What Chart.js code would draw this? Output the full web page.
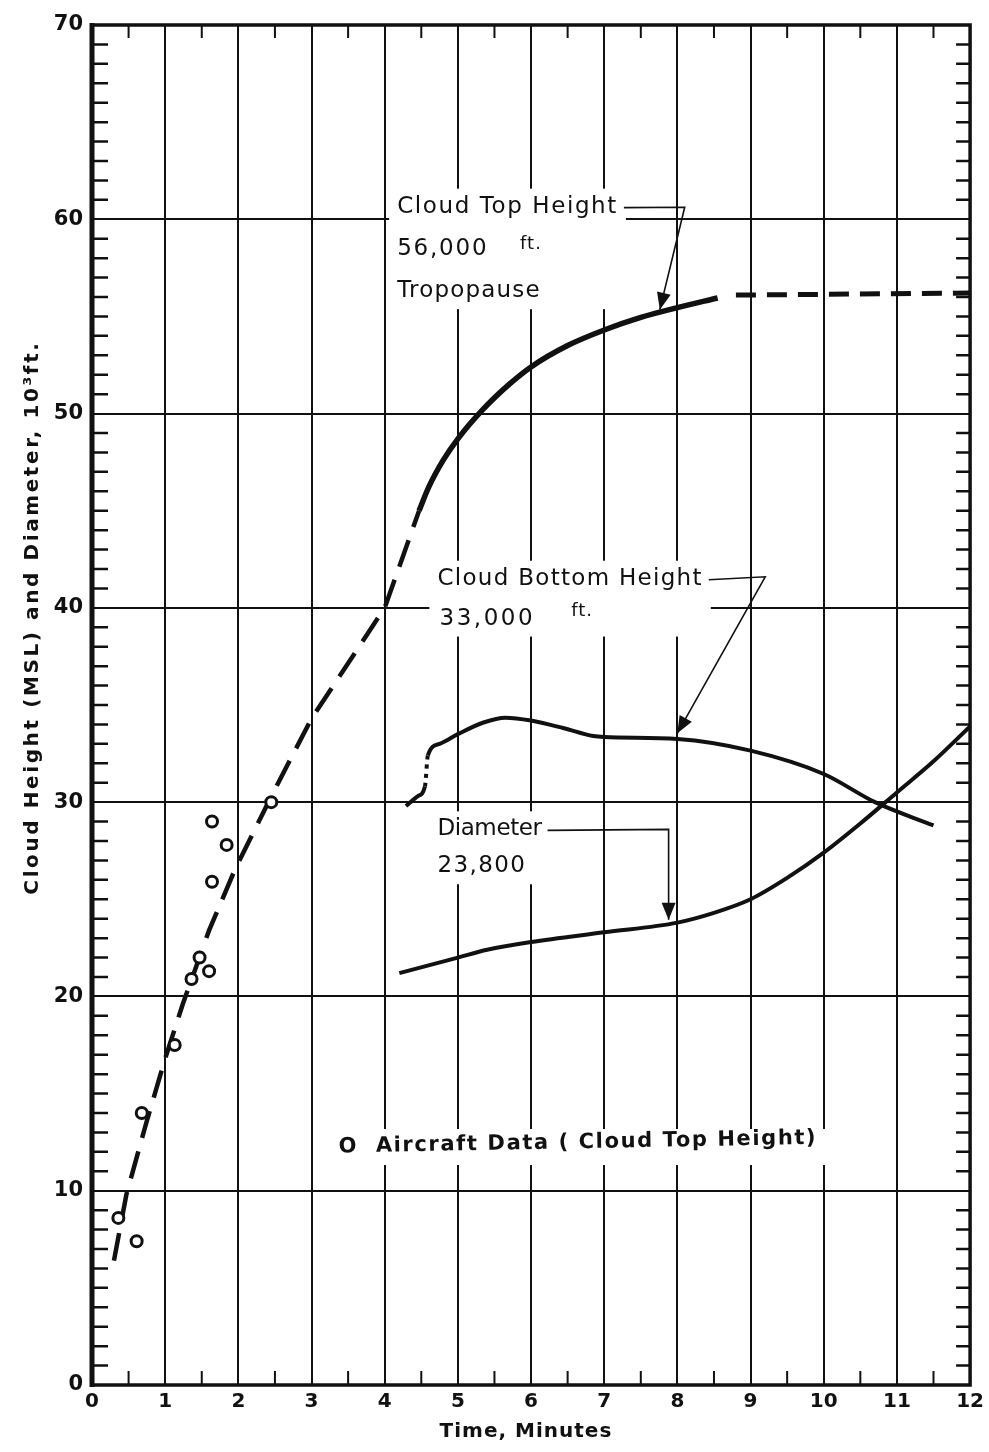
<!DOCTYPE html>
<html>
<head>
<meta charset="utf-8">
<title>Cloud height and diameter vs time</title>
<script src="https://cdn.jsdelivr.net/npm/chart.js@4.4.1/dist/chart.umd.min.js"></script>
<style>
  html, body { margin: 0; padding: 0; background: #fff; }
  canvas { display: block; }
</style>
</head>
<body>
<canvas id="chart" width="989" height="1452"></canvas>
<script>
// Axis ticks (time in minutes, height in 10^3 ft)
const xTickValues = [0, 1, 2, 3, 4, 5, 6, 7, 8, 9, 10, 11, 12];
const yTickValues = [0, 10, 20, 30, 40, 50, 60, 70];

// Aircraft observations of cloud top (open circles)
const aircraftTime = [0.36, 0.61, 0.68, 1.13, 1.36, 1.47, 1.60, 1.64, 1.64, 1.84, 2.45];
const aircraftTop = [8.6, 7.4, 14.0, 17.5, 20.9, 22.0, 21.3, 25.9, 29.0, 27.8, 30.0];

// Cloud top height, early rise (dashed)
const riseTime = [0.30, 0.47, 0.75, 1.0, 1.24, 1.6, 1.95, 2.45, 3.0, 4.0, 4.47];
const riseTop = [6.4, 9.8, 13.6, 16.8, 19.6, 23.4, 26.5, 30.3, 34.3, 40.0, 45.0];

// Cloud top height, observed (solid)
const topTime = [4.47, 4.6, 4.8, 5.0, 5.34, 5.7, 6.0, 6.5, 7.0, 7.5, 8.0, 8.55];
const topHeight = [45.0, 46.2, 47.6, 48.7, 50.2, 51.5, 52.4, 53.5, 54.3, 54.95, 55.45, 55.95];

// Tropopause level (dashed)
const tropoTime = [8.8, 12.0];
const tropoHeight = [56.1, 56.2];

// Cloud bottom height (third segment dotted)
const bottomTime = [4.29, 4.45, 4.55, 4.59, 4.75, 5.0, 5.35, 5.65, 6.0, 6.45, 6.85, 7.0, 8.0, 9.0, 10.0, 10.7, 11.5];
const bottomHeight = [29.8, 30.3, 30.8, 32.4, 33.0, 33.5, 34.1, 34.35, 34.2, 33.8, 33.4, 33.35, 33.25, 32.65, 31.45, 30.0, 28.8];

// Cloud diameter
const diamTime = [4.2, 5.0, 5.4, 6.0, 7.0, 8.0, 8.5, 9.0, 9.5, 10.0, 10.5, 11.0, 11.5, 12.0];
const diamValue = [21.2, 22.0, 22.4, 22.8, 23.3, 23.8, 24.3, 25.0, 26.1, 27.4, 28.9, 30.5, 32.1, 33.9];

const ink = "#111";
const pairs = (xs, ys) => xs.map((x, i) => ({ x: x, y: ys[i] }));

// Hand lettering on the chart, placed in data units
const labelFont = '23px "DejaVu Sans"';
const smallFont = '18px "DejaVu Sans"';
const noteFont = 'bold 21px "DejaVu Sans"';
const notes = [
  { block: "top", text: "Cloud Top Height", x: 4.17, y: 60.65, font: labelFont, gap: 1.6 },
  { block: "top", text: "56,000", x: 4.17, y: 58.45, font: labelFont, gap: 1.8 },
  { block: "top", text: "ft.", x: 5.85, y: 58.7, font: smallFont, gap: 1 },
  { block: "top", text: "Tropopause", x: 4.17, y: 56.3, font: labelFont, gap: 1.2 },
  { block: "bottom", text: "Cloud Bottom Height", x: 4.72, y: 41.5, font: labelFont, gap: 1.3 },
  { block: "bottom", text: "33,000", x: 4.75, y: 39.45, font: labelFont, gap: 2.5 },
  { block: "bottom", text: "ft.", x: 6.55, y: 39.8, font: smallFont, gap: 1 },
  { block: "diam", text: "Diameter", x: 4.72, y: 28.6, font: labelFont, gap: -0.4 },
  { block: "diam", text: "23,800", x: 4.72, y: 26.7, font: labelFont, gap: 1.4 },
  { block: "air", text: "O  Aircraft Data ( Cloud Top Height)", x: 3.37, y: 12.25, font: noteFont, gap: 1.6, angle: -0.018 },
];
// leader lines start at the end of a note and finish with an arrow head
const leaders = [
  { note: 0, points: [[8.1, 60.62], [7.76, 55.35]] },
  { note: 4, points: [[9.2, 41.6], [8.0, 33.55]] },
  { note: 7, points: [[7.88, 28.6], [7.88, 23.95]] },
];

function noteWidth(ctx, n) {
  ctx.font = n.font;
  ctx.letterSpacing = n.gap + "px";
  return ctx.measureText(n.text).width;
}

const lettering = {
  id: "lettering",
  beforeDatasetsDraw(chart) {
    // white out the grid behind each text block
    const ctx = chart.ctx;
    const { x, y } = chart.scales;
    const boxes = {};
    ctx.save();
    notes.forEach((n) => {
      const w = noteWidth(ctx, n);
      const px = x.getPixelForValue(n.x);
      const py = y.getPixelForValue(n.y);
      const b = boxes[n.block] || { l: 1e9, r: -1e9, t: 1e9, b: -1e9 };
      b.l = Math.min(b.l, px - 8);
      b.r = Math.max(b.r, px + w + 8);
      b.t = Math.min(b.t, py - 18);
      b.b = Math.max(b.b, py + 18);
      boxes[n.block] = b;
    });
    ctx.fillStyle = "#fff";
    Object.values(boxes).forEach((b) => ctx.fillRect(b.l, b.t, b.r - b.l, b.b - b.t));
    ctx.restore();
  },
  afterDatasetsDraw(chart) {
    const ctx = chart.ctx;
    const { x, y } = chart.scales;
    ctx.save();
    ctx.fillStyle = ink;
    ctx.textBaseline = "middle";
    ctx.textAlign = "left";
    notes.forEach((n) => {
      noteWidth(ctx, n);
      ctx.save();
      ctx.translate(x.getPixelForValue(n.x), y.getPixelForValue(n.y));
      if (n.angle) ctx.rotate(n.angle);
      ctx.fillText(n.text, 0, 0);
      ctx.restore();
    });

    // leader lines with arrow heads
    ctx.strokeStyle = ink;
    ctx.lineWidth = 1.6;
    leaders.forEach((ld) => {
      const n = notes[ld.note];
      const start = [x.getPixelForValue(n.x) + noteWidth(ctx, n) + 6, y.getPixelForValue(n.y) + 1];
      const p = [start].concat(ld.points.map((q) => [x.getPixelForValue(q[0]), y.getPixelForValue(q[1])]));
      ctx.beginPath();
      ctx.moveTo(p[0][0], p[0][1]);
      for (let i = 1; i < p.length; i++) ctx.lineTo(p[i][0], p[i][1]);
      ctx.stroke();
      const a = p[p.length - 2], b = p[p.length - 1];
      const ang = Math.atan2(b[1] - a[1], b[0] - a[0]);
      const len = 17, half = 7;
      ctx.beginPath();
      ctx.moveTo(b[0], b[1]);
      ctx.lineTo(b[0] - len * Math.cos(ang) + half * Math.sin(ang), b[1] - len * Math.sin(ang) - half * Math.cos(ang));
      ctx.lineTo(b[0] - len * Math.cos(ang) - half * Math.sin(ang), b[1] - len * Math.sin(ang) + half * Math.cos(ang));
      ctx.closePath();
      ctx.fill();
    });
    ctx.restore();
  },
  afterDraw(chart) {
    const ctx = chart.ctx;
    const area = chart.chartArea;
    const { x, y } = chart.scales;
    ctx.save();
    ctx.strokeStyle = ink;
    ctx.lineCap = "butt";

    // minor ticks, inside the frame
    ctx.lineWidth = 2.5;
    for (let v = 1; v < 70; v++) {
      if (v % 10 === 0) continue;
      const py = y.getPixelForValue(v);
      ctx.beginPath();
      ctx.moveTo(area.left, py);
      ctx.lineTo(area.left + 16, py);
      ctx.moveTo(area.right - 14, py);
      ctx.lineTo(area.right, py);
      ctx.stroke();
    }
    ctx.lineWidth = 2;
    for (let v = 0.5; v < 12; v += 1) {
      const px = x.getPixelForValue(v);
      ctx.beginPath();
      ctx.moveTo(px, area.bottom);
      ctx.lineTo(px, area.bottom - 14);
      ctx.moveTo(px, area.top);
      ctx.lineTo(px, area.top + 13);
      ctx.stroke();
    }

    // frame
    ctx.lineWidth = 3.5;
    ctx.strokeRect(area.left, area.top, area.right - area.left, area.bottom - area.top);
    ctx.lineWidth = 5;
    ctx.beginPath();
    ctx.moveTo(area.left, area.top - 2);
    ctx.lineTo(area.left, area.bottom + 2);
    ctx.stroke();

    // axis titles
    ctx.fillStyle = ink;
    ctx.textAlign = "center";
    ctx.textBaseline = "middle";
    ctx.font = 'bold 20px "DejaVu Sans"';
    ctx.letterSpacing = "1px";
    ctx.fillText("Time, Minutes", x.getPixelForValue(5.93), area.bottom + 47);
    ctx.translate(area.left - 59, y.getPixelForValue(39.5));
    ctx.rotate(-Math.PI / 2);
    ctx.font = 'bold 20px "DejaVu Sans"';
    ctx.letterSpacing = "2.6px";
    ctx.fillText("Cloud Height (MSL) and Diameter, 10\u00B3ft.", 0, 0);
    ctx.restore();
  },
};

const chart = new Chart(document.getElementById("chart"), {
  type: "line",
  data: {
    datasets: [
      {
        label: "Aircraft Data (Cloud Top Height)",
        data: pairs(aircraftTime, aircraftTop),
        showLine: false,
        pointRadius: 5.5,
        pointBorderWidth: 3,
        pointBackgroundColor: "#fff",
        pointBorderColor: ink,
      },
      {
        label: "Cloud top (rise)",
        data: pairs(riseTime, riseTop),
        borderColor: ink,
        borderWidth: 4.5,
        borderDash: [28, 14],
        pointRadius: 0,
        tension: 0,
      },
      {
        label: "Cloud top height",
        data: pairs(topTime, topHeight),
        borderColor: ink,
        borderWidth: 5.5,
        pointRadius: 0,
        cubicInterpolationMode: "monotone",
      },
      {
        label: "Tropopause",
        data: pairs(tropoTime, tropoHeight),
        borderColor: ink,
        borderWidth: 5,
        borderDash: [20, 11],
        pointRadius: 0,
      },
      {
        label: "Cloud bottom height",
        data: pairs(bottomTime, bottomHeight),
        borderColor: ink,
        borderWidth: 4,
        pointRadius: 0,
        cubicInterpolationMode: "monotone",
        segment: { borderDash: (c) => (c.p0DataIndex === 2 ? [4, 5] : undefined) },
      },
      {
        label: "Diameter",
        data: pairs(diamTime, diamValue),
        borderColor: ink,
        borderWidth: 4,
        pointRadius: 0,
        cubicInterpolationMode: "monotone",
      },
    ],
  },
  options: {
    responsive: false,
    devicePixelRatio: 1,
    animation: false,
    layout: { padding: { top: 25, right: 14, left: 0, bottom: 0 } },
    plugins: { legend: { display: false }, tooltip: { enabled: false } },
    scales: {
      x: {
        type: "linear",
        min: 0,
        max: 12,
        afterBuildTicks: (s) => { s.ticks = xTickValues.map((v) => ({ value: v })); },
        afterFit: (s) => { s.height = 67; },
        grid: { color: ink, lineWidth: 2, drawTicks: false },
        border: { display: false },
        ticks: {
          color: ink,
          padding: 5,
          maxRotation: 0,
          autoSkip: false,
          font: { family: "DejaVu Sans", size: 20, weight: "bold" },
        },
      },
      y: {
        type: "linear",
        min: 0,
        max: 70,
        afterBuildTicks: (s) => { s.ticks = yTickValues.map((v) => ({ value: v })); },
        afterFit: (s) => { s.width = 92; },
        grid: { color: ink, lineWidth: 2, drawTicks: false },
        border: { display: false },
        ticks: {
          color: ink,
          padding: 9,
          autoSkip: false,
          font: { family: "DejaVu Sans", size: 21, weight: "bold" },
        },
      },
    },
  },
  plugins: [lettering],
});
</script>
</body>
</html>
